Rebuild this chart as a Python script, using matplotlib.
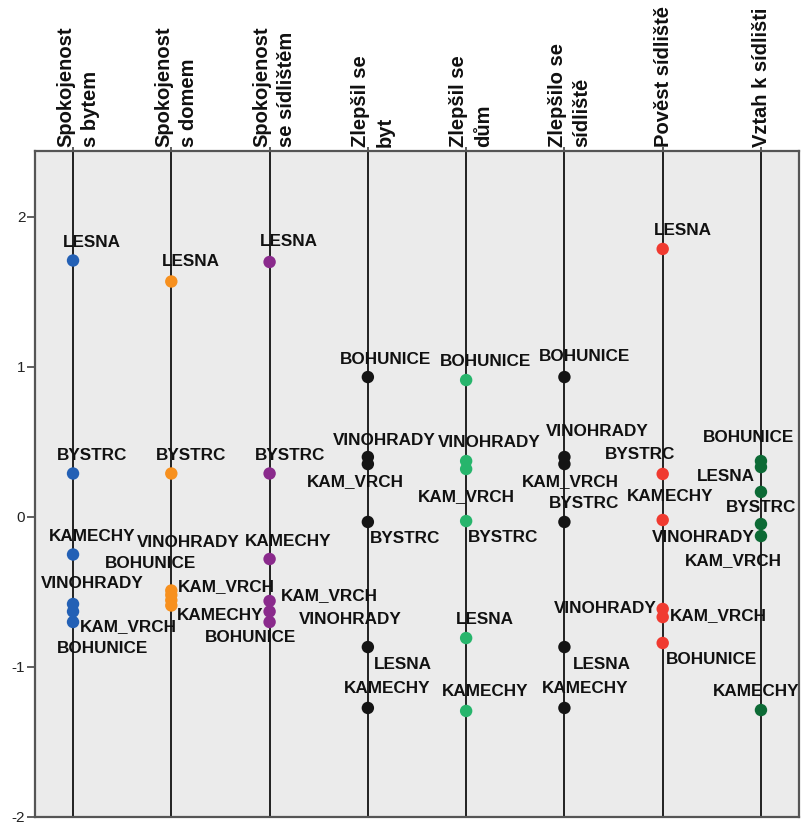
import matplotlib
matplotlib.use("Agg")
import matplotlib.pyplot as plt

# data: standardised scores per site for each variable
sites = ["LESNA", "BYSTRC", "KAMECHY", "VINOHRADY", "KAM_VRCH", "BOHUNICE"]
headers = ["Spokojenost\ns bytem", "Spokojenost\ns domem", "Spokojenost\nse sídlištěm",
           "Zlepšil se\nbyt", "Zlepšil se\ndům", "Zlepšilo se\nsídliště",
           "Pověst sídliště", "Vztah k sídlišti"]

spok_byt = [1.71, 0.29, -0.25, -0.58, -0.70, -0.63]
spok_dum = [1.57, 0.29, -0.59, -0.49, -0.555, -0.52]
spok_sidl = [1.70, 0.29, -0.28, -0.63, -0.56, -0.70]
zlep_byt = [-0.867, -0.033, -1.273, 0.40, 0.353, 0.933]
zlep_dum = [-0.807, -0.027, -1.293, 0.373, 0.32, 0.913]
zlep_sidl = [-0.867, -0.033, -1.273, 0.40, 0.353, 0.933]
povest = [1.787, 0.287, -0.02, -0.613, -0.667, -0.84]
vztah = [0.333, 0.167, -1.287, -0.047, -0.127, 0.373]

columns = [spok_byt, spok_dum, spok_sidl, zlep_byt, zlep_dum, zlep_sidl, povest, vztah]
colors = ["#2360b5", "#f7901e", "#8a2a8c", "#141414", "#27b56c", "#141414", "#f03a30", "#0c6a35"]

# label placement (pixel offsets from the point, alignment)
C, L, R = "center", "left", "right"
label_pos = [
    {"LESNA": (19, 18, C), "BYSTRC": (19, 18, C), "KAMECHY": (19, 18, C),
     "VINOHRADY": (19, 20, C), "KAM_VRCH": (7, -5, L), "BOHUNICE": (29, -37, C)},
    {"LESNA": (20, 20, C), "BYSTRC": (20, 18, C), "VINOHRADY": (17, 48, C),
     "BOHUNICE": (-21, 31, C), "KAM_VRCH": (7, 14, L), "KAMECHY": (6, -10, L)},
    {"LESNA": (19, 20, C), "BYSTRC": (20, 18, C), "KAMECHY": (19, 18, C),
     "KAM_VRCH": (11, 5, L), "VINOHRADY": (29, -8, L), "BOHUNICE": (-19, -16, C)},
    {"BOHUNICE": (18, 18, C), "VINOHRADY": (16, 16, C), "KAM_VRCH": (-12, -18, C),
     "BYSTRC": (2, -17, L), "LESNA": (6, -17, L), "KAMECHY": (19, 19, C)},
    {"BOHUNICE": (19, 19, C), "VINOHRADY": (23, 19, C), "KAM_VRCH": (0, -28, C),
     "BYSTRC": (2, -16, L), "LESNA": (19, 19, C), "KAMECHY": (19, 19, C)},
    {"BOHUNICE": (20, 21, C), "VINOHRADY": (33, 25, C), "KAM_VRCH": (6, -18, C),
     "BYSTRC": (20, 18, C), "LESNA": (8, -17, L), "KAMECHY": (21, 19, C)},
    {"LESNA": (20, 18, C), "BYSTRC": (-23, 19, C), "KAMECHY": (7, 23, C),
     "VINOHRADY": (-6, 0, R), "KAM_VRCH": (7, 1, L), "BOHUNICE": (3, -17, L)},
    {"BOHUNICE": (-12, 24, C), "LESNA": (-6, -9, R), "BYSTRC": (0, -16, C),
     "VINOHRADY": (-6, -13, R), "KAM_VRCH": (-28, -25, C), "KAMECHY": (-5, 19, C)},
]

plt.rcParams["font.family"] = ["Liberation Sans", "DejaVu Sans"]

fig = plt.figure(figsize=(8.06, 8.24), dpi=100)
ax = fig.add_axes([35 / 806, 7 / 824, 764 / 806, 666 / 824])
ax.set_facecolor("#ebebeb")

for i, vals in enumerate(columns):
    ax.axvline(i, color="#111111", lw=1.3, zorder=1)
    ax.scatter([i] * len(vals), vals, s=80, color=colors[i], edgecolors="none", zorder=3)
    for site, v in zip(sites, vals):
        dx, dy, ha = label_pos[i][site]
        ax.annotate(site, (i, v), xytext=(dx, dy), textcoords="offset pixels",
                    ha=ha, va="center", fontsize=12.3, fontweight="bold",
                    color="#111111", zorder=4)
    ax.annotate(headers[i], (i, 1), xycoords=("data", "axes fraction"),
                xytext=(5 if "\n" in headers[i] else 1, 4), textcoords="offset pixels",
                rotation=90, ha="center", va="bottom", multialignment="left",
                fontsize=14.5, fontweight="bold", color="#111111",
                linespacing=1.38)

ax.set_xlim(-0.387, 7.387)
ax.set_ylim(-2, 2.44)
ax.set_yticks([-2, -1, 0, 1, 2])
ax.set_yticklabels(["-2", "-1", "0", "1", "2"])
ax.set_xticks(range(8))
ax.tick_params(axis="x", bottom=False, top=True, labelbottom=False,
               length=3, color="#444444", width=1.2)
ax.tick_params(axis="y", length=6, width=1.2, color="#444444",
               labelsize=11, labelcolor="#222222", pad=1)
for sp in ax.spines.values():
    sp.set_color("#555555")
    sp.set_linewidth(1.6)

fig.savefig("out.png", dpi=100)
